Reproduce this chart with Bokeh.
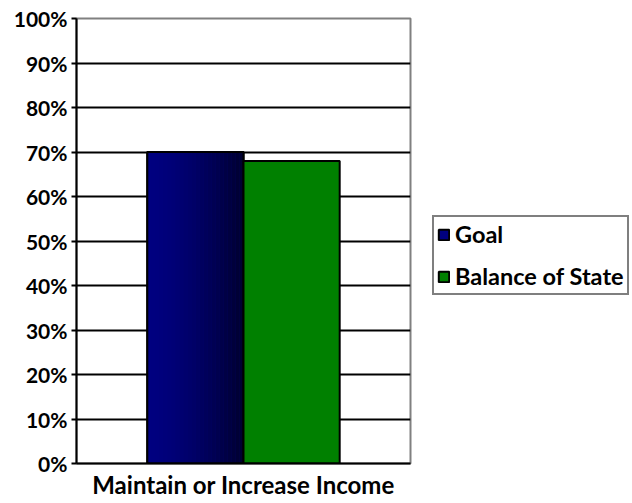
from bokeh.plotting import figure
from bokeh.models import (FactorRange, Range1d, FixedTicker,
                          NumeralTickFormatter, Legend, LegendItem, ColumnDataSource)
from bokeh.transform import dodge
from bokeh.embed import file_html
from bokeh.resources import INLINE

categories = ["Maintain or Increase Income"]
goal = [0.70]
balance = [0.68]
series_names = ["Goal", "Balance of State"]
y_ticks = [0.0, 0.1, 0.2, 0.3, 0.4, 0.5, 0.6, 0.7, 0.8, 0.9, 1.0]

FONT = "Lato"
src = ColumnDataSource(dict(cat=categories, goal=goal, balance=balance))

p = figure(frame_width=334, frame_height=445, x_range=FactorRange(*categories), y_range=Range1d(0, 1),
           output_backend="svg", toolbar_location=None,
           min_border_left=76, min_border_right=222, min_border_top=18, min_border_bottom=0)
p.outline_line_color = "#808080"
p.outline_line_width = 2
p.background_fill_color = "white"
p.border_fill_color = "white"

# y axis
p.yaxis.ticker = FixedTicker(ticks=y_ticks)
p.yaxis.formatter = NumeralTickFormatter(format="0%")
p.yaxis.axis_line_width = 2
p.yaxis.axis_line_color = "black"
p.yaxis.major_tick_out = 5
p.yaxis.major_tick_in = 0
p.yaxis.major_tick_line_width = 2
p.yaxis.minor_tick_line_color = None
p.yaxis.major_label_text_font = FONT
p.yaxis.major_label_text_font_style = "bold"
p.yaxis.major_label_text_font_size = "21px"
p.yaxis.major_label_text_color = "black"
p.yaxis.major_label_standoff = 4

p.ygrid.ticker = FixedTicker(ticks=y_ticks)
p.ygrid.grid_line_color = "black"
p.ygrid.grid_line_width = 2
p.xgrid.grid_line_color = None

# x axis
p.xaxis.axis_line_width = 2
p.xaxis.axis_line_color = "black"
p.xaxis.major_tick_line_color = None
p.xaxis.major_label_text_font = FONT
p.xaxis.major_label_text_font_style = "bold"
p.xaxis.major_label_text_font_size = "24px"
p.xaxis.major_label_text_color = "black"
p.xaxis.major_label_standoff = 0

bw = 0.288
# Goal bar: base, gradient strips, outline
goal_r = p.vbar(x=dodge("cat", -bw / 2, range=p.x_range), top="goal", width=bw, source=src,
                fill_color="#000080", line_color="black", line_width=2)
N = 24
for i in range(N):
    t = (i + 0.5) / N
    b = int(round(128 - 82 * t ** 1.6))
    off = -bw + (i + 0.5) * bw / N
    p.vbar(x=dodge("cat", off, range=p.x_range), top="goal", width=bw / N * 1.05, source=src,
           fill_color="#0000%02x" % b, line_color=None)
p.vbar(x=dodge("cat", -bw / 2, range=p.x_range), top="goal", width=bw, source=src,
       fill_alpha=0, line_color="black", line_width=2)
bal_r = p.vbar(x=dodge("cat", bw / 2, range=p.x_range), top="balance", width=bw, source=src,
               fill_color="#008000", line_color="black", line_width=2)

legend = Legend(items=[LegendItem(label=series_names[0], renderers=[goal_r]),
                       LegendItem(label=series_names[1], renderers=[bal_r])],
                location=(22, 168), orientation="vertical",
                border_line_color="black", border_line_width=2,
                background_fill_color="white", background_fill_alpha=1,
                label_text_font=FONT, label_text_font_style="bold",
                label_text_font_size="23.5px", label_text_color="black",
                glyph_width=13, glyph_height=13, label_standoff=5,
                spacing=14, padding=3, margin=0)
p.add_layout(legend, "right")

open("out.html", "w").write(file_html(p, INLINE))
